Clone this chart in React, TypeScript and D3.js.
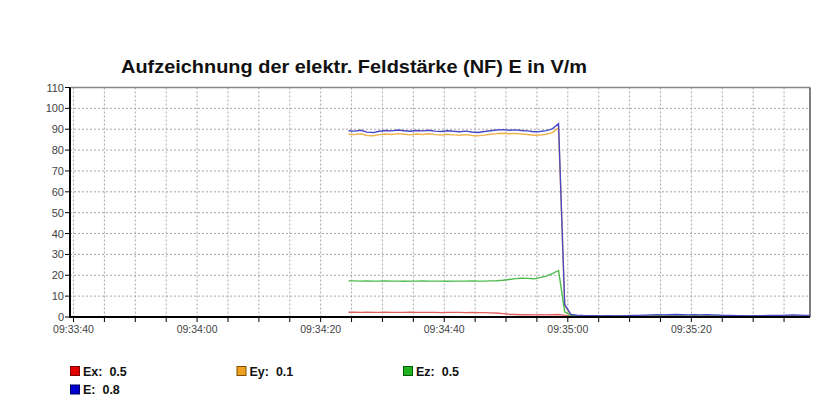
import React from 'react';
import * as d3 from 'd3';

// seconds after 09:33:40
const seconds = [
  44.5, 45.5, 46.5, 47.5, 48.5, 49.5, 50.5, 51.5, 52.5, 53.5,
  54.5, 55.5, 56.5, 57.5, 58.5, 59.5, 60.5, 61.5, 62.5, 63.5,
  64.5, 65.5, 66.5, 67.5, 68.5, 69.5, 70.5, 71.5, 72.5, 73.5,
  74.5, 75.5, 76.5, 77.5, 78.5, 79.5, 80.5, 81.5, 82.5, 83.5,
  84.5, 85.5, 86.5, 87.5, 88.5, 89.5, 90.5, 91.5, 92.5, 93.5,
  94.5, 95.5, 96.5, 97.5, 98.5, 99.5, 100.5, 101.5, 102.5, 103.5,
  104.5, 105.5, 106.5, 107.5, 108.5, 109.5, 110.5, 111.5, 112.5, 113.5,
  114.5, 115.5, 116.5, 117.5, 118.5, 119.5
];

const ex = [
  2.3, 2.3, 2.2, 2.3, 2.2, 2.2, 2.3, 2.2, 2.2, 2.2,
  2.3, 2.2, 2.2, 2.2, 2.2, 2.1, 2.2, 2.2, 2.2, 2.1,
  2.2, 2.1, 2.1, 2.0, 1.9, 1.6, 1.3, 1.2, 1.1, 1.1,
  1.0, 1.1, 1.0, 1.1, 1.2, 0.8, 0.4, 0.4, 0.5, 0.4,
  0.4, 0.5, 0.4, 0.4, 0.5, 0.4, 0.5, 0.5, 0.4, 0.5,
  0.4, 0.5, 0.5, 0.4, 0.5, 0.4, 0.5, 0.4, 0.5, 0.5,
  0.4, 0.5, 0.4, 0.5, 0.4, 0.5, 0.5, 0.4, 0.5, 0.4,
  0.5, 0.5, 0.4, 0.5, 0.5, 0.5
];

const ey = [
  87.6, 87.4, 87.8, 87.0, 86.9, 87.4, 87.7, 87.5, 87.9, 87.6,
  87.3, 87.7, 87.5, 87.8, 87.4, 87.2, 87.6, 87.3, 87.1, 87.4,
  87.0, 86.8, 87.2, 87.6, 87.9, 88.1, 87.8, 88.0, 87.7, 87.5,
  87.1, 87.2, 87.6, 88.4, 90.6, 5.5, 1.0, 0.3, 0.2, 0.2,
  0.1, 0.2, 0.1, 0.1, 0.2, 0.1, 0.2, 0.2, 0.1, 0.1,
  0.2, 0.1, 0.1, 0.2, 0.1, 0.1, 0.2, 0.1, 0.1, 0.2,
  0.1, 0.1, 0.2, 0.1, 0.1, 0.2, 0.1, 0.1, 0.1, 0.2,
  0.1, 0.1, 0.2, 0.1, 0.1, 0.1
];

const ez = [
  17.3, 17.3, 17.2, 17.3, 17.2, 17.2, 17.3, 17.2, 17.2, 17.1,
  17.2, 17.2, 17.3, 17.2, 17.2, 17.2, 17.1, 17.2, 17.2, 17.2,
  17.3, 17.2, 17.2, 17.3, 17.4, 17.6, 18.0, 18.4, 18.6, 18.5,
  18.3, 18.9, 19.6, 20.8, 22.3, 2.5, 0.6, 0.5, 0.4, 0.5,
  0.4, 0.5, 0.5, 0.4, 0.5, 0.5, 0.4, 0.5, 0.5, 0.4,
  0.5, 0.5, 0.4, 0.5, 0.5, 0.4, 0.5, 0.5, 0.4, 0.5,
  0.5, 0.4, 0.5, 0.5, 0.4, 0.5, 0.5, 0.4, 0.5, 0.5,
  0.4, 0.5, 0.5, 0.4, 0.5, 0.5
];

const e = [
  89.3, 89.1, 89.5, 88.6, 88.4, 89.0, 89.4, 89.2, 89.6, 89.3,
  89.0, 89.4, 89.2, 89.5, 89.1, 88.9, 89.3, 89.0, 88.8, 89.1,
  88.7, 88.4, 88.9, 89.3, 89.6, 89.8, 89.5, 89.7, 89.4, 89.2,
  88.8, 88.9, 89.3, 90.2, 92.6, 6.0, 1.2, 0.9, 0.7, 0.6,
  0.6, 0.5, 0.6, 0.5, 0.5, 0.6, 0.7, 0.8, 0.9, 1.0,
  1.1, 1.0, 1.1, 1.2, 1.1, 1.0, 1.1, 1.0, 1.1, 1.0,
  0.9, 0.8, 0.7, 0.6, 0.6, 0.5, 0.6, 0.6, 0.7, 0.7,
  0.8, 0.9, 1.0, 0.9, 0.8, 0.8
];

const yTicks = [0, 10, 20, 30, 40, 50, 60, 70, 80, 90, 100, 110];
const xLabels = ['09:33:40', '09:34:00', '09:34:20', '09:34:40', '09:35:00', '09:35:20'];

const legend = [
  { name: 'Ex', value: '0.5', fill: '#e00000', stroke: '#800000' },
  { name: 'Ey', value: '0.1', fill: '#f0a020', stroke: '#805000' },
  { name: 'Ez', value: '0.5', fill: '#20b020', stroke: '#006000' },
  { name: 'E', value: '0.8', fill: '#0000d0', stroke: '#000060' }
];

const series = [
  { data: ex, color: '#e06060' },
  { data: ey, color: '#f2b24a' },
  { data: ez, color: '#4cbc4c' },
  { data: e, color: '#4848c4' }
];

const W = 837;
const H = 414;
const left = 70;
const right = 810;
const top = 87.5;
const bottom = 317;

const App = () => {
  const x = d3.scaleLinear().domain([-0.57, 119.2]).range([left, right]);
  const y = d3.scaleLinear().domain([0, 110]).range([bottom, top]);
  const gridSeconds = d3.range(0, 120, 5);
  const line = (vals: number[]) =>
    d3
      .line<number>()
      .x((_, i) => x(seconds[i]))
      .y(d => y(d))(vals) || '';

  return (
    <svg
      width={W}
      height={H}
      style={{ position: 'absolute', left: 0, top: 0, background: '#fff' }}
      fontFamily="'Liberation Sans', Arial, sans-serif"
    >
      <defs>
        <clipPath id="plot">
          <rect x={left} y={top} width={right - left} height={bottom - top} />
        </clipPath>
      </defs>
      <text
        x={121}
        y={73}
        fontSize={18}
        fontWeight="bold"
        fill="#111"
        textLength={466}
        lengthAdjust="spacingAndGlyphs"
      >
        Aufzeichnung der elektr. Feldstärke (NF) E in V/m
      </text>

      {/* grid */}
      {yTicks.slice(1, -1).map(t => (
        <line key={'gy' + t} x1={left} x2={right} y1={y(t)} y2={y(t)} stroke="#a8a8a8" strokeDasharray="2,2" />
      ))}
      {gridSeconds.map(s => (
        <line key={'gx' + s} x1={x(s)} x2={x(s)} y1={top} y2={bottom} stroke="#a8a8a8" strokeDasharray="2,2" />
      ))}

      {/* frame */}
      <line x1={left} x2={right} y1={top} y2={top} stroke="#888" strokeWidth={1.5} />
      <line x1={right} x2={right} y1={top} y2={bottom} stroke="#555" strokeWidth={1.5} />

      {/* series */}
      <g clipPath="url(#plot)">
        {series.map((s, i) => (
          <path key={i} d={line(s.data)} fill="none" stroke={s.color} strokeWidth={1.4} />
        ))}
      </g>

      {/* axes */}
      <line x1={left} x2={right} y1={bottom} y2={bottom} stroke="#000" strokeWidth={2} />
      <line x1={left} x2={left} y1={top} y2={bottom + 1} stroke="#000" strokeWidth={2} />
      {yTicks.map(t => (
        <g key={'yt' + t}>
          <line x1={left - 5} x2={left} y1={y(t)} y2={y(t)} stroke="#000" />
          <text x={left - 6} y={y(t) + 4} fontSize={11} textAnchor="end" fill="#444">
            {t}
          </text>
        </g>
      ))}
      {gridSeconds.map(s => (
        <line key={'xt' + s} x1={x(s)} x2={x(s)} y1={bottom} y2={bottom + 5} stroke="#000" />
      ))}
      {xLabels.map((l, i) => (
        <text key={l} x={x(i * 20)} y={333} fontSize={10.5} textAnchor="middle" fill="#444">
          {l}
        </text>
      ))}

      {/* legend */}
      {legend.map((d, i) => {
        const lx = i < 3 ? [70, 236.5, 403][i] : 70;
        const ly = i < 3 ? 366 : 384.5;
        return (
          <g key={d.name}>
            <rect x={lx + 0.5} y={ly + 0.5} width={9} height={9} fill={d.fill} stroke={d.stroke} />
            <text x={lx + 13} y={ly + 9.5} fontSize={12.5} fontWeight="bold" fill="#111" style={{ whiteSpace: 'pre' }}>
              {`${d.name}:  ${d.value}`}
            </text>
          </g>
        );
      })}
    </svg>
  );
};

export default App;
